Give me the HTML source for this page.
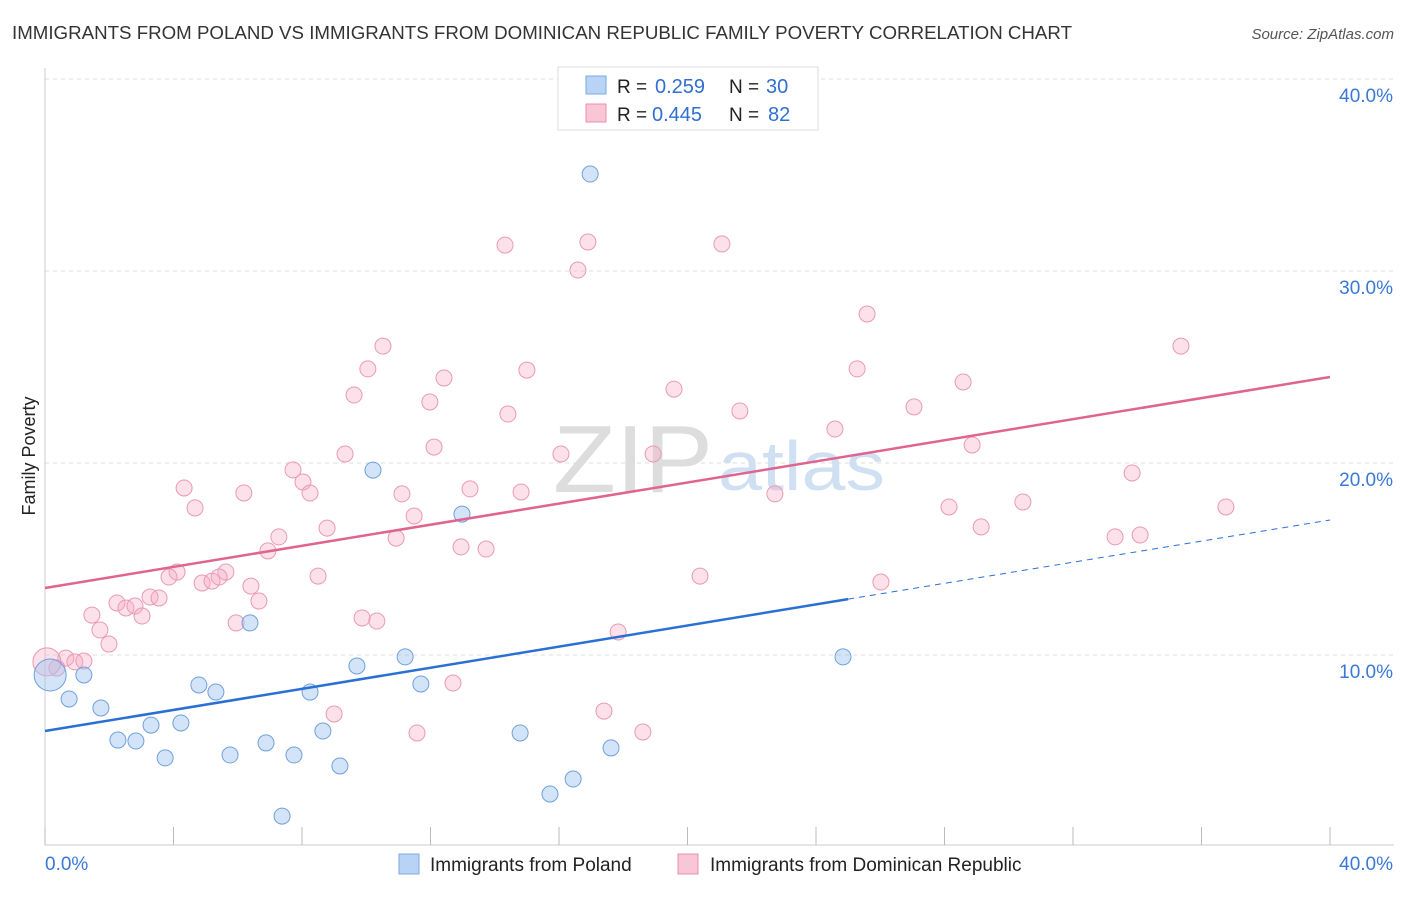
<!DOCTYPE html>
<html><head><meta charset="utf-8"><style>
body{margin:0;background:#fff;font-family:"Liberation Sans",sans-serif;}
svg text{font-family:"Liberation Sans",sans-serif;}
</style></head><body>
<svg id="chart" width="1406" height="892">
<text x="12" y="39" font-size="18" fill="#333" textLength="1060" lengthAdjust="spacingAndGlyphs">IMMIGRANTS FROM POLAND VS IMMIGRANTS FROM DOMINICAN REPUBLIC FAMILY POVERTY CORRELATION CHART</text>
<text x="1394" y="39" font-size="15" fill="#555" font-style="italic" text-anchor="end">Source: ZipAtlas.com</text>
<text x="35" y="456" font-size="18" fill="#222" text-anchor="middle" transform="rotate(-90 35 456)">Family Poverty</text>
<text x="553" y="492" font-size="96" fill="#ddd" font-family="Liberation Serif" textLength="160" lengthAdjust="spacingAndGlyphs">ZIP</text>
<text x="718" y="490" font-size="70" fill="#cfe0f3" textLength="167" lengthAdjust="spacingAndGlyphs">atlas</text>
<g id="grid"></g><g id="pts"></g><g id="lines"></g>
<g>
<rect x="558" y="67" width="260" height="63" fill="#fff" stroke="#ddd"/>
<rect x="586" y="76" width="20" height="18" fill="#b8d3f5" stroke="#7aaae0"/>
<rect x="586" y="104" width="20" height="18" fill="#f9c6d6" stroke="#e890ab"/>
<text x="617" y="93" font-size="19" fill="#222">R =</text>
<text x="655" y="93" font-size="20" fill="#2f6fd0">0.259</text>
<text x="729" y="93" font-size="19" fill="#222">N =</text>
<text x="766" y="93" font-size="20" fill="#2f6fd0">30</text>
<text x="617" y="121" font-size="19" fill="#222">R =</text>
<text x="652" y="121" font-size="20" fill="#2f6fd0">0.445</text>
<text x="729" y="121" font-size="19" fill="#222">N =</text>
<text x="768" y="121" font-size="20" fill="#2f6fd0">82</text>
</g>
<g>
<rect x="399" y="854" width="20" height="20" fill="#b8d3f5" stroke="#7aaae0"/>
<text x="430" y="871" font-size="19" fill="#222">Immigrants from Poland</text>
<rect x="678" y="854" width="20" height="20" fill="#f9c6d6" stroke="#e890ab"/>
<text x="710" y="871" font-size="19" fill="#222">Immigrants from Dominican Republic</text>
</g>
</svg>
<script>
const blueX=[16.97,10.21,12.98,6.38,1.21,0.75,1.74,4.79,5.32,8.25,9.71,11.21,11.70,24.84,3.30,4.23,2.27,2.83,3.74,5.76,6.88,7.75,8.65,9.18,14.79,17.62,16.44,15.72,7.38,0.16];
const blueY=[35.05,19.63,17.34,11.67,8.96,7.71,7.24,8.44,8.07,8.07,9.43,9.90,8.49,9.90,6.35,6.46,5.57,5.52,4.64,4.79,5.42,4.79,6.04,4.22,5.94,5.16,3.54,2.76,1.61,8.96];
const pinkX=[16.90,14.32,21.07,16.59,25.59,10.52,35.36,10.05,15.00,25.28,12.42,28.58,9.62,19.58,11.98,14.41,21.63,27.05,24.59,12.11,28.86,9.34,16.06,18.93,7.72,33.84,4.33,6.19,8.03,8.25,11.11,13.23,14.82,22.72,4.67,11.49,28.14,30.44,36.76,8.78,29.14,7.28,10.93,33.31,34.09,6.94,12.95,13.73,4.11,3.86,5.63,8.50,20.39,4.89,5.20,5.42,6.41,26.02,3.27,3.55,2.24,2.52,2.80,3.02,6.66,1.46,9.87,10.33,5.95,1.71,1.99,17.84,0.65,0.93,1.21,0.37,12.70,9.00,17.40,11.58,18.61,0.06];
const pinkY=[31.51,31.35,31.41,30.05,27.76,26.09,26.09,24.90,24.84,24.90,24.43,24.22,23.54,23.85,23.18,22.55,22.71,22.92,21.77,20.83,20.94,20.47,20.47,20.47,19.64,19.48,18.70,18.44,19.01,18.44,18.39,18.65,18.49,18.39,17.66,17.24,17.71,17.97,17.71,16.61,16.67,16.15,16.09,16.15,16.25,15.42,15.63,15.52,14.32,14.06,14.32,14.11,14.11,13.75,13.85,14.06,13.59,13.80,13.02,12.97,12.71,12.45,12.55,12.03,12.81,12.08,11.93,11.77,11.67,11.30,10.57,11.20,9.84,9.64,9.69,9.32,8.54,6.93,7.08,5.94,5.99,9.64];
const yTicks=[10,20,30,40];
const yTickLabels=["10.0%","20.0%","30.0%","40.0%"];
const blueTrend=[6.04,17.03]; const blueSolidEnd=25;
const pinkTrend=[13.49,24.48];
const NS="http://www.w3.org/2000/svg";
const sx=v=>45+v*32.125, sy=v=>847-v*19.2;
function mk(tag,attrs,parent){const e=document.createElementNS(NS,tag);for(const k in attrs)e.setAttribute(k,attrs[k]);document.getElementById(parent).appendChild(e);return e;}
yTicks.forEach((t,i)=>{
 const g=mk('line',{x1:45,x2:1394,y1:sy(t),y2:sy(t),stroke:'#ddd','stroke-dasharray':'4,4'},'grid');
 
 
 const l=mk('text',{x:1393,y:sy(t)+23,'font-size':19,fill:'#3a78d6','text-anchor':'end'},'grid');
 l.textContent=yTickLabels[i];
 
 
});
mk('line',{x1:45,x2:45,y1:68,y2:845,stroke:'#ccc'},'grid');
mk('line',{x1:45,x2:1394,y1:845,y2:845,stroke:'#ccc'},'grid');
for(let i=0;i<=10;i++){mk('line',{x1:sx(i*4),x2:sx(i*4),y1:827,y2:845,stroke:'#bbb'},'grid');}
const xl0=mk('text',{x:45,y:870,'font-size':19,fill:'#3a78d6'},'grid');xl0.textContent='0.0%';


const xl1=mk('text',{x:1393,y:870,'font-size':19,fill:'#3a78d6','text-anchor':'end'},'grid');xl1.textContent='40.0%';


pinkX.forEach((x,i)=>{const c=mk('circle',{cx:sx(x),cy:sy(pinkY[i]),r:i==pinkX.length-1?14:8,fill:'rgba(245,170,195,0.35)',stroke:'#ea9ab3','stroke-width':1},'pts');
 
 });
blueX.forEach((x,i)=>{const c=mk('circle',{cx:sx(x),cy:sy(blueY[i]),r:i==blueX.length-1?16:8,fill:'rgba(160,195,240,0.45)',stroke:'#6fa0dc','stroke-width':1},'pts');
 
 });
const bAt=v=>blueTrend[0]+(blueTrend[1]-blueTrend[0])*v/40;
const pl=mk('line',{x1:sx(0),y1:sy(pinkTrend[0]),x2:sx(40),y2:sy(pinkTrend[1]),stroke:'#e0648f','stroke-width':2.5},'lines');


const bl=mk('line',{x1:sx(0),y1:sy(bAt(0)),x2:sx(blueSolidEnd),y2:sy(bAt(blueSolidEnd)),stroke:'#2a6fd4','stroke-width':2.5},'lines');


const bd=mk('line',{x1:sx(blueSolidEnd),y1:sy(bAt(blueSolidEnd)),x2:sx(40),y2:sy(bAt(40)),stroke:'#2a6fd4','stroke-width':1,'stroke-dasharray':'6,5'},'lines');


</script>
</body></html>
